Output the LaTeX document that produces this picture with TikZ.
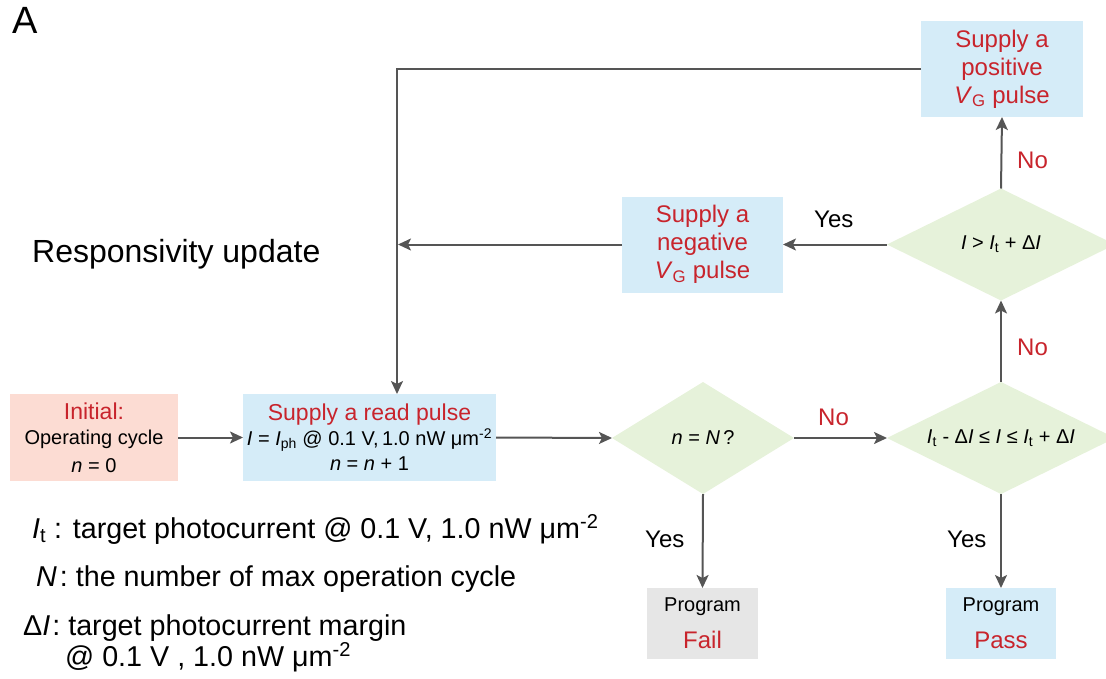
\documentclass[tikz,border=0pt]{standalone}
\usepackage{fontspec}
\setmainfont{Liberation Sans}
\usetikzlibrary{shapes.geometric,arrows.meta}
\definecolor{lnc}{HTML}{555555}
\definecolor{redt}{HTML}{C8242C}
\definecolor{bluef}{HTML}{D5ECF8}
\definecolor{pinkf}{HTML}{FCDCD3}
\definecolor{grayf}{HTML}{E6E6E6}
\definecolor{greenf}{HTML}{E6F2DA}
\newcommand{\fsz}[2]{\fontsize{#1}{#2}\selectfont}
\begin{document}
\begin{tikzpicture}[x=1pt,y=-1pt,
  box/.style={rectangle, inner sep=0pt, outer sep=0pt, align=center},
  dia/.style={diamond, fill=greenf, inner sep=0pt, outer sep=0pt, minimum height=112pt, font=\fsz{20}{24}},
  arr/.style={draw=lnc, line width=2pt, -{Stealth[length=13pt,width=12pt,inset=3pt]}},
  lbl/.style={anchor=base west, inner sep=0pt, font=\fsz{24}{28}},
  leg/.style={anchor=base west, inner sep=0pt, font=\fsz{28.7}{32}},
]
\useasboundingbox (0,0) rectangle (1106,678);

% boxes
\node[box, fill=pinkf, minimum width=168pt, minimum height=87pt, font=\fsz{20}{26}] (init) at (94,437.5)
  {\textcolor{redt}{\fsz{23}{26}Initial:}\\[-1pt]Operating cycle\\[2pt]\textit{n} = 0};
\node[box, fill=bluef, minimum width=253pt, minimum height=87pt, font=\fsz{20}{26}] (read) at (369.5,437.5)
  {\textcolor{redt}{\fsz{23}{26}Supply a read pulse}\\[-1pt]\textit{I} = \textit{I}\textsubscript{ph} @ 0.1 V,\,1.0 nW μm\textsuperscript{-2}\\[-1pt]\textit{n} = \textit{n} + 1};
\node[box, fill=bluef, minimum width=161pt, minimum height=96pt, font=\fsz{24}{28}, text=redt] (neg) at (702.5,244.5)
  {Supply a\\negative\\\textit{V}\textsubscript{G} pulse};
\node[box, fill=bluef, minimum width=162pt, minimum height=96pt, font=\fsz{24}{28}, text=redt] (pos) at (1002,69)
  {Supply a\\positive\\\textit{V}\textsubscript{G} pulse};
\node[box, fill=grayf, minimum width=111pt, minimum height=71pt, font=\fsz{20}{24}] (fail) at (702.5,623.5)
  {\raisebox{-4pt}{Program}\\[13pt]\textcolor{redt}{\fsz{24}{24}\raisebox{-4pt}{Fail}}};
\node[box, fill=bluef, minimum width=110pt, minimum height=71pt, font=\fsz{20}{24}] (pass) at (1001,623.5)
  {\raisebox{-4pt}{Program}\\[13pt]\textcolor{redt}{\fsz{24}{24}\raisebox{-4pt}{Pass}}};

% decisions
\node[dia, minimum width=182pt] (d1) at (703,438) {\makebox[0pt]{\textit{n} = \textit{N}\,?}};
\node[dia, minimum width=228pt] (d2) at (1001,438) {\makebox[0pt]{\textit{I}\textsubscript{t} - Δ\textit{I} ≤ \textit{I} ≤ \textit{I}\textsubscript{t} + Δ\textit{I}}};
\node[dia, minimum width=228pt] (d3) at (1001,244.5) {\makebox[0pt]{\textit{I} > \textit{I}\textsubscript{t} + Δ\textit{I}}};

% connectors
\draw[arr] (init.east) -- (read.west);
\draw[arr] (read.east) -- (d1.west);
\draw[arr] (d1.east) -- (d2.west);
\draw[arr] (d1.south) -- (fail.north);
\draw[arr] (d2.south) -- (pass.north);
\draw[arr] (d2.north) -- (d3.south);
\draw[arr] (d3.north) -- (pos.south);
\draw[arr] (d3.west) -- (neg.east);
\coordinate (upd) at (398,244.5);
\draw[arr] (neg.west) -- (upd);
\draw[arr] (pos.west) -| ([xshift=27.5pt]read.north);

% connector labels
\node[lbl, text=redt] (lno1) at (818,425) {No};
\node[lbl] (lyes1) at (645,547) {Yes};
\node[lbl] (lyes2) at (947,547) {Yes};
\node[lbl, text=redt] (lno2) at (1017,355) {No};
\node[lbl, text=redt] (lno3) at (1017,168) {No};
\node[lbl] (lyes3) at (814,227) {Yes};

% texts
\node[anchor=base west, inner sep=0pt, font=\fsz{38}{40}] (panel) at (12,33) {A};
\node[anchor=base west, inner sep=0pt, font=\fsz{32}{36}] (resp) at (32,262) {Responsivity update};
\node[leg] (leg1) at (32,538) {\textit{I}\textsubscript{t} : target photocurrent @ 0.1 V, 1.0 nW μm\textsuperscript{-2}};
\node[leg] (leg2) at (36,586) {\textit{N}\hspace{3pt}: the number of max operation cycle};
\node[leg] (leg3) at (23,635) {Δ\textit{I}\hspace{2pt}: target photocurrent margin};
\node[leg] (leg4) at (65,666) {@ 0.1 V , 1.0 nW μm\textsuperscript{-2}};
\end{tikzpicture}
\end{document}
